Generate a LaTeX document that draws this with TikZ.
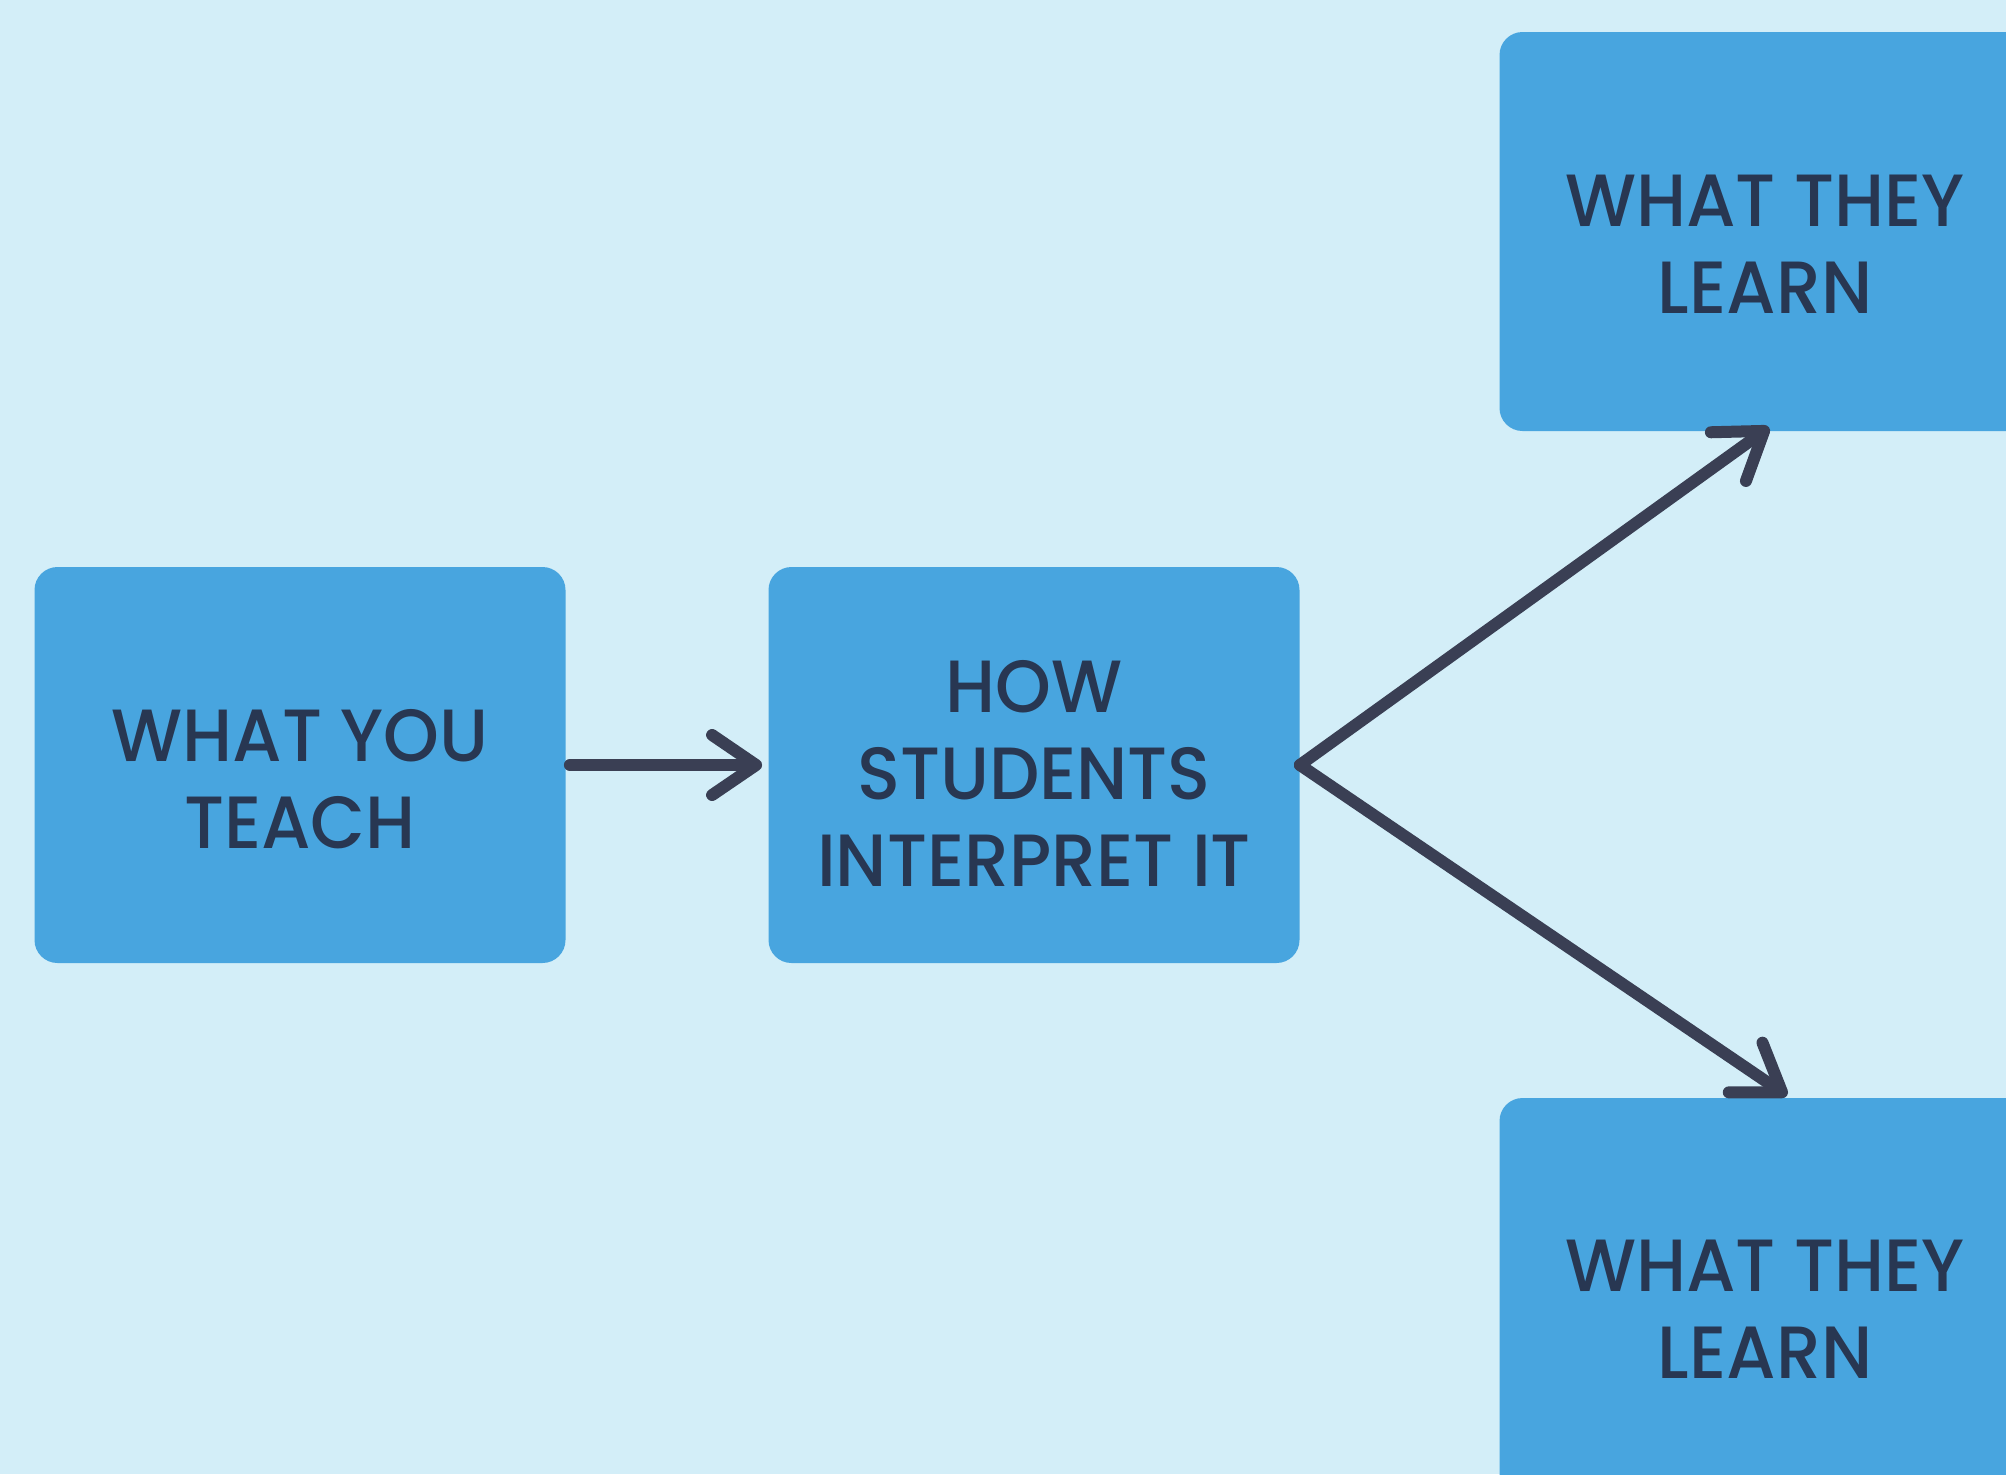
\documentclass[tikz,border=0pt]{standalone}
\usepackage{fontspec}
\IfFontExistsTF{Poppins Medium}{\setmainfont{Poppins Medium}[FakeStretch=0.96]}{%
  \IfFontExistsTF{Poppins-Medium}{\setmainfont{Poppins-Medium}[FakeStretch=0.96]}{\setmainfont{Poppins}[FakeBold=1,FakeStretch=0.96]}}
\usetikzlibrary{arrows.meta}
\definecolor{bgc}{RGB}{211,238,248}
\definecolor{boxc}{RGB}{72,165,223}
\definecolor{txtc}{RGB}{40,55,82}
\definecolor{arrc}{RGB}{58,63,84}
\begin{document}
\begin{tikzpicture}[x=0.5pt,y=-0.5pt,
  box/.style={fill=boxc, rounded corners=11.5pt, minimum width=265.5pt, minimum height=198pt,
    inner sep=0pt},
  lbl/.style={inner sep=0pt, align=center, text=txtc, font=\fontsize{37}{43.5}\selectfont},
  conn/.style={draw=arrc, line width=6pt, line cap=round,
    -{Straight Barb[length=22pt,width=30pt,line width=6pt,round]}}]
\useasboundingbox (0,0) rectangle (2006,1474);
\clip (0,0) rectangle (2006,1474);
\fill[bgc] (0,0) rectangle (2006,1474);
\node[box] (a) at (300,765) {};
\node[box] (b) at (1034,765) {};
\node[box, minimum height=199.5pt] (c) at (1765,231.5) {};
\node[box, minimum height=199.5pt] (d) at (1765,1297.5) {};
\node[lbl] (ta) at ([yshift=-7pt]a.center) {WHAT YOU\\TEACH};
\node[lbl] (tb) at ([yshift=-4pt]b.center) {HOW\\STUDENTS\\INTERPRET IT};
\node[lbl] (tc) at ([yshift=-6.3pt]c.center) {WHAT THEY\\LEARN};
\node[lbl] (td) at ([yshift=-0.5pt]1765,1308) {WHAT THEY\\LEARN};
\draw[conn] ([xshift=2pt]a.east) -- ([xshift=-3pt]b.west);
\draw[conn] (b.east) -- ([xshift=2pt,yshift=2pt]c.south);
\draw[conn] (b.east) -- ([xshift=11pt,yshift=1pt]d.north);
\end{tikzpicture}
\end{document}
